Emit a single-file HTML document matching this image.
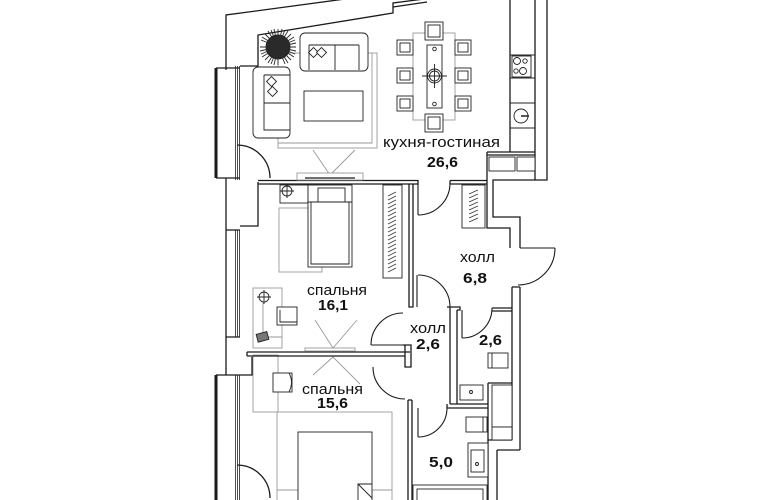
<!DOCTYPE html>
<html><head><meta charset="utf-8"><style>
html,body{margin:0;padding:0;background:#fff;}
svg{display:block;}
text{font-family:"Liberation Sans","DejaVu Sans",sans-serif;fill:#111;}
</style></head><body>
<svg width="770" height="500" viewBox="0 0 770 500" xmlns="http://www.w3.org/2000/svg">
<g fill="none" stroke="#9a9a9a" stroke-width="0.9">
  <rect x="278" y="53" width="99" height="95"/>
  <path d="M372,53 L372,143 L278,143"/>
  <rect x="413" y="33" width="42" height="87"/>
  <rect x="279" y="208" width="43" height="64"/>
  <rect x="253" y="288" width="29" height="60"/>
  <rect x="253" y="355" width="25" height="57"/>
  <rect x="277" y="412" width="115" height="78"/>
  <rect x="277" y="490" width="21" height="12"/>
  <rect x="372" y="490" width="20" height="12"/>
  <path d="M313,150 L330,175 L355,150"/>
  <path d="M315,320 L333,348 L357,320"/>
  <path d="M313,375 L333,357 L360,384"/>
</g>
<g fill="none" stroke="#1a1a1a" stroke-width="1.3">
  <path d="M226,70 L226,15 L345,-1"/>
  <path d="M240,66 L258,66 L258,35 L393,13 L393,3 L424,-1"/>
  <path d="M393,7 L427,2"/>
  <path d="M216,68 L216,178" stroke-width="3"/>
  <path d="M216,68 L240,68 M216,178 L240,178"/>
  <path d="M226,178 L226,375"/>
  <path d="M226,230 L240,230 M226,337 L240,337"/>
  <path d="M258,182 L258,226 L240,226"/>
  <path d="M252,357 L252,375 L216,375"/>
  <path d="M216,375 L216,500" stroke-width="3"/>
  <path d="M258,180.5 L418,180.5 L418,184 L409,184 M258,184 L409,184"/>
  <path d="M450,180.5 L487,180.5 M450,184 L487,184 M450,180.5 L450,184"/>
  <path d="M409,184 L409,307 L413,307 L413,184"/>
  <path d="M247,352 L410,352 M247,356 L405,356 M247,352 L247,356"/>
  <path d="M403,345 L411,345 L411,367 L405,367 L405,345"/>
  <path d="M408,400 L408,500 M412,400 L412,500 M408,400 L412,400"/>
  <path d="M450,307 L450,404 M457,310 L457,404 M447,307 L460,307 L460,310 L457,310"/>
  <path d="M450,404 L488,404 M447,408 L488,408 M447,404 L447,408"/>
  <path d="M488,383 L488,500 M488,383 L512,383"/>
  <path d="M488,440 L512,440 M497,450 L520,450 M497,450 L497,500"/>
  <path d="M512,287 L512,440 M520,287 L520,450 M512,287 L520,287"/>
  <path d="M492,308 L512,308 M492,311 L512,311"/>
  <path d="M487,152 L487,228 L510,228 L510,248"/>
  <path d="M547,0 L547,180 L493,180 L493,217 L520,217 L520,248"/>
  <path d="M535,0 L535,180"/>
  <path d="M510,0 L510,152"/>
  <path d="M487,152 L535,152 M487,155 L535,155"/>
  <path d="M237,145 A33,33 0 0 1 270,178"/>
  <path d="M237,465 A33,33 0 0 1 270,498"/>
  <path d="M418,215 L418,184 M418,215 A32,32 0 0 0 450,183" stroke-width="1.1"/>
  <path d="M417,307 L417,275 M418,275 A32,32 0 0 1 450,307" stroke-width="1.1"/>
  <path d="M371,345 L403,345 M371,345 A32,32 0 0 1 403,313" stroke-width="1.1"/>
  <path d="M373,367 A32,32 0 0 0 405,399" stroke-width="1.1"/>
  <path d="M418,408 L418,437 M418,437 A29,29 0 0 0 447,408" stroke-width="1.1"/>
  <path d="M462,310 L462,338 M462,338 A30,30 0 0 0 492,308" stroke-width="1.1"/>
  <path d="M520,248 L555,248 M555,248 A37,37 0 0 1 518,285" stroke-width="1.1"/>
</g>
<g stroke="#222" stroke-width="0.8" fill="none">
  <path d="M235.5,66 L235.5,180 M237.5,66 L237.5,180 M239.5,66 L239.5,180"/>
  <path d="M235.5,230 L235.5,337 M237.5,230 L237.5,337 M239.5,230 L239.5,337"/>
  <path d="M235.5,375 L235.5,500 M237.5,375 L237.5,500 M239.5,375 L239.5,500"/>
</g>
<g fill="#fff" stroke="#222" stroke-width="0.9">
  <circle cx="278" cy="47" r="12" fill="#2a2a2a"/>
  <rect x="300" y="33" width="68" height="38" rx="5"/>
  <path d="M309,45 L359,45 M309,45 L309,70 M359,45 L359,70 M335,45 L335,70" fill="none"/>
  <rect x="310" y="49" width="7" height="7" transform="rotate(45 313.5 52.5)"/>
  <rect x="318" y="49" width="7" height="7" transform="rotate(45 321.5 52.5)"/>
  <rect x="253" y="67" width="37" height="71" rx="5"/>
  <path d="M264,75 L290,75 M264,75 L264,130 L290,130 M264,103 L290,103" fill="none"/>
  <rect x="268" y="78" width="7" height="7" transform="rotate(45 271.5 81.5)"/>
  <rect x="269" y="88" width="7" height="7" transform="rotate(45 272.5 91.5)"/>
  <rect x="304" y="91" width="59" height="30"/>
  <rect x="297" y="173" width="66" height="7" stroke="#999"/>
  <path d="M305,178 L355,178" fill="none" stroke="#444" stroke-width="1.5"/>
  <rect x="425" y="22" width="18" height="18"/><rect x="428" y="25" width="12" height="12"/>
  <rect x="425" y="114" width="18" height="18"/><rect x="428" y="117" width="12" height="12"/>
  <rect x="397" y="40" width="16" height="15"/><rect x="400" y="43" width="10" height="9"/>
  <rect x="397" y="68" width="16" height="15"/><rect x="400" y="71" width="10" height="9"/>
  <rect x="397" y="96" width="16" height="15"/><rect x="400" y="99" width="10" height="9"/>
  <rect x="455" y="40" width="16" height="15"/><rect x="458" y="43" width="10" height="9"/>
  <rect x="455" y="68" width="16" height="15"/><rect x="458" y="71" width="10" height="9"/>
  <rect x="455" y="96" width="16" height="15"/><rect x="458" y="99" width="10" height="9"/>
  <rect x="427" y="45" width="15" height="63"/>
  <circle cx="434.5" cy="76" r="7"/><circle cx="434.5" cy="76" r="5"/>
  <path d="M422,76 L447,76 M434.5,64 L434.5,88" fill="none"/>
  <circle cx="434.5" cy="49" r="1.8"/><circle cx="434.5" cy="104" r="1.8"/>
  <path d="M510,55 L535,55 M510,78 L535,78 M510,103 L535,103 M510,128 L535,128" fill="none"/>
  <rect x="512" y="56" width="19" height="21"/>
  <circle cx="517" cy="61" r="3.5"/><circle cx="525" cy="61" r="2.2"/>
  <circle cx="516" cy="71" r="2.2"/><circle cx="523" cy="71" r="3.5"/>
  <circle cx="521" cy="116" r="7"/>
  <path d="M521,116 L529,116" fill="none" stroke-width="1.5"/>
  <rect x="489" y="157" width="26" height="14"/><rect x="517" y="157" width="18" height="14"/>
  <rect x="462" y="185" width="23" height="43"/>
  <rect x="280" y="185" width="28" height="18"/>
  <circle cx="287" cy="191" r="5"/><path d="M280,191 L294,191 M287,184 L287,198" fill="none"/>
  <rect x="308" y="185" width="44" height="82"/>
  <rect x="318" y="188" width="27" height="14"/>
  <path d="M308,202 L352,202 M311,202 L311,264 L349,264 L349,202" fill="none"/>
  <rect x="383" y="185" width="19" height="93"/>
  <circle cx="264" cy="297" r="5"/><path d="M257,297 L271,297 M264,290 L264,304" fill="none"/>
  <path d="M263,302 L263,337 L282,337" fill="none" stroke="#999"/>
  <rect x="277" y="307" width="20" height="18"/><path d="M280,310 L280,322 L297,322" fill="none"/>
  <rect x="257" y="333" width="11" height="8" fill="#777" transform="rotate(-15 262 337)"/>
  <rect x="305" y="348" width="50" height="3" stroke="#999"/>
  <rect x="273" y="373" width="19" height="19"/><path d="M289,373 Q294,382 289,392" fill="none"/>
  <rect x="298" y="432" width="74" height="70"/>
  <path d="M358,502 L358,484 L372,484 M358,484 L372,498" fill="none"/>
  <rect x="488" y="353" width="20" height="15"/><path d="M492,353 L492,368" fill="none"/>
  <rect x="460" y="385" width="23" height="15"/><circle cx="471" cy="392" r="1.5"/>
  <rect x="492" y="385" width="20" height="42"/><rect x="492" y="427" width="20" height="13"/>
  <rect x="466" y="417" width="21" height="15"/><path d="M483,417 L483,432" fill="none"/>
  <rect x="468" y="443" width="20" height="34"/>
  <rect x="471" y="450" width="13" height="22"/><circle cx="477" cy="464" r="1.5"/>
  <rect x="413" y="485" width="74" height="20"/><rect x="417" y="489" width="66" height="16"/>
</g>
<g stroke="#2a2a2a" stroke-width="0.9">
  <path d="M278,47 L278,29 M278,47 L296,47 M278,47 L278,65 M278,47 L260,47 M278,47 L291,34 M278,47 L291,60 M278,47 L265,60 M278,47 L265,34 M278,47 L285,30 M278,47 L295,40 M278,47 L295,54 M278,47 L285,64 M278,47 L271,64 M278,47 L261,54 M278,47 L261,40 M278,47 L271,30 M278,47 L282,29 M278,47 L288,31 M278,47 L294,37 M278,47 L296,43 M278,47 L296,51 M278,47 L294,57 M278,47 L288,63 M278,47 L274,65 M278,47 L268,63 M278,47 L262,57 M278,47 L260,51 M278,47 L262,37 M278,47 L268,31 M278,47 L274,29"/>
</g>
<g stroke="#333" stroke-width="0.7">
  <path d="M388,196 L396,192 M388,200 L396,196 M388,204 L396,200 M388,208 L396,204 M388,212 L396,208 M388,216 L396,212 M388,220 L396,216 M388,224 L396,220 M388,228 L396,224 M388,232 L396,228 M388,236 L396,232 M388,240 L396,236 M388,244 L396,240 M388,248 L396,244 M388,252 L396,248 M388,256 L396,252 M388,260 L396,256 M388,264 L396,260 M388,268 L396,264 M388,272 L396,268"/>
  <path d="M469,194 L478,190 M469,198 L478,194 M469,202 L478,198 M469,206 L478,202 M469,210 L478,206 M469,214 L478,210 M469,218 L478,214 M469,222 L478,218"/>
</g>
<text x="383" y="147" font-size="15" textLength="117" lengthAdjust="spacingAndGlyphs">кухня-гостиная</text>
<text x="427" y="167" font-size="15" font-weight="bold" textLength="31" lengthAdjust="spacingAndGlyphs">26,6</text>
<text x="307" y="295" font-size="15" textLength="60" lengthAdjust="spacingAndGlyphs">спальня</text>
<text x="318" y="310" font-size="15" font-weight="bold" textLength="30" lengthAdjust="spacingAndGlyphs">16,1</text>
<text x="460" y="262" font-size="15" textLength="35" lengthAdjust="spacingAndGlyphs">холл</text>
<text x="463" y="283" font-size="15" font-weight="bold" textLength="24" lengthAdjust="spacingAndGlyphs">6,8</text>
<text x="410" y="333" font-size="15" textLength="36" lengthAdjust="spacingAndGlyphs">холл</text>
<text x="416" y="349" font-size="15" font-weight="bold" textLength="24" lengthAdjust="spacingAndGlyphs">2,6</text>
<text x="479" y="345" font-size="15" font-weight="bold" textLength="23" lengthAdjust="spacingAndGlyphs">2,6</text>
<text x="302" y="394" font-size="15" textLength="61" lengthAdjust="spacingAndGlyphs">спальня</text>
<text x="317" y="408" font-size="15" font-weight="bold" textLength="31" lengthAdjust="spacingAndGlyphs">15,6</text>
<text x="429" y="467" font-size="15" font-weight="bold" textLength="24" lengthAdjust="spacingAndGlyphs">5,0</text>
</svg>
</body></html>
